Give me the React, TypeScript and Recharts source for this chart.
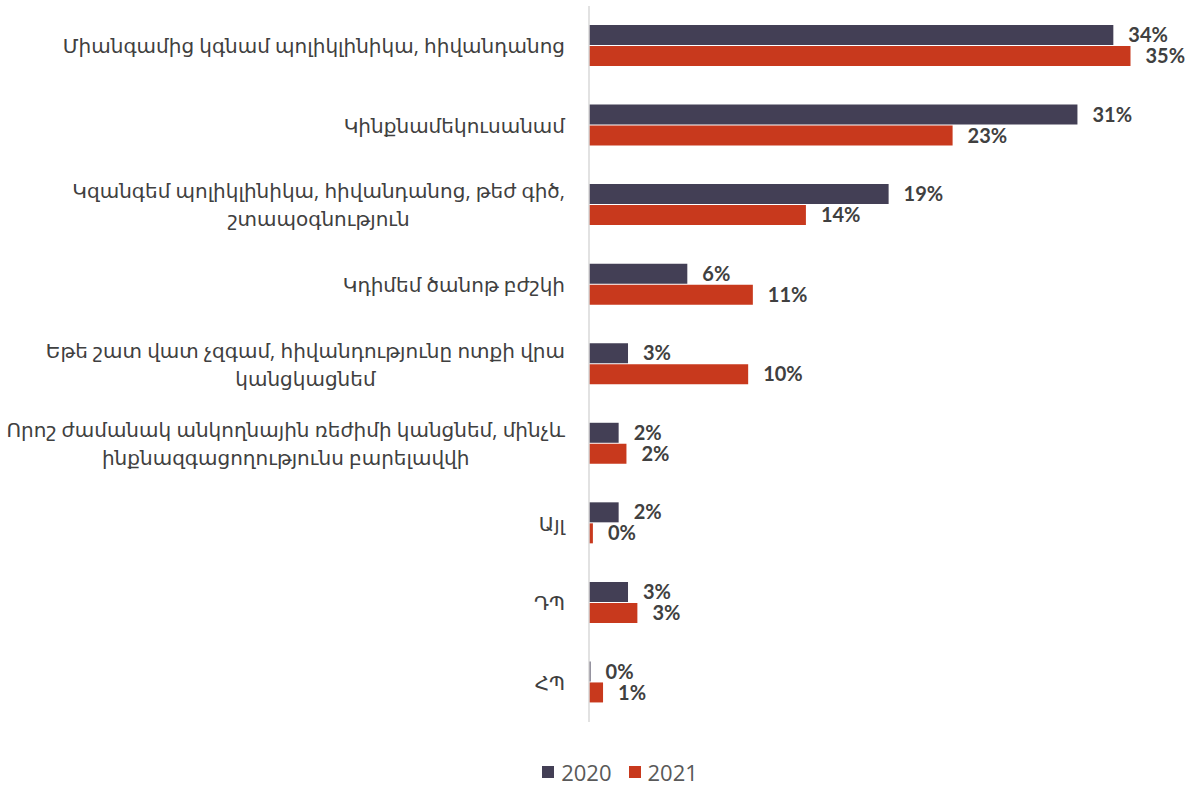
import React from "react";
import { BarChart, Bar, XAxis, YAxis, Legend, LabelList } from "recharts";

const categories: string[] = [
  "Միանգամից կգնամ պոլիկլինիկա, հիվանդանոց",
  "Կինքնամեկուսանամ",
  "Կզանգեմ պոլիկլինիկա, հիվանդանոց, թեժ գիծ,\nշտապօգնություն",
  "Կդիմեմ ծանոթ բժշկի",
  "Եթե շատ վատ չզգամ, հիվանդությունը ոտքի վրա\nկանցկացնեմ",
  "Որոշ ժամանակ անկողնային ռեժիմի կանցնեմ, մինչև\nինքնազգացողությունս բարելավվի",
  "Այլ",
  "ԴՊ",
  "ՀՊ",
];
const values2020: number[] = [33.6, 31.3, 19.2, 6.3, 2.5, 1.9, 1.9, 2.5, 0.1];
const values2021: number[] = [34.7, 23.3, 13.9, 10.5, 10.2, 2.4, 0.25, 3.1, 0.9];
const seriesNames = ["2020", "2021"];
const colors = ["#433F55", "#C8391D"];

const data = categories.map((c, i) => ({
  name: c,
  v2020: values2020[i],
  v2021: values2021[i],
}));

const FONT = '"Open Sans", "DejaVu Sans", sans-serif';
const TICK_SIZE = 20;
let ctx: CanvasRenderingContext2D | null = null;
function measure(t: string): number {
  if (!ctx) {
    ctx = document.createElement("canvas").getContext("2d");
  }
  if (!ctx) return t.length * 11;
  ctx.font = `${TICK_SIZE}px ${FONT}`;
  return ctx.measureText(t).width;
}

const CatTick = (props: any) => {
  const { x, y, payload } = props;
  const lines: string[] = String(payload.value).split("\n");
  const maxW = Math.max(...lines.map(measure));
  const cx = x - maxW / 2;
  const lh = 28;
  const startY = y - ((lines.length - 1) * lh) / 2;
  return (
    <text
      textAnchor="middle"
      fontFamily={FONT}
      fontSize={TICK_SIZE}
      fill="#404040"
    >
      {lines.map((l, i) => (
        <tspan key={i} x={cx} y={startY + i * lh} dominantBaseline="central">
          {l}
        </tspan>
      ))}
    </text>
  );
};

const LegendContent = () => (
  <div
    style={{
      display: "flex",
      justifyContent: "center",
      alignItems: "center",
      fontFamily: FONT,
      fontSize: 22,
      color: "#595959",
      paddingLeft: 46,
    }}
  >
    {seriesNames.map((n, i) => (
      <div
        key={n}
        style={{ display: "flex", alignItems: "center", marginRight: i === 0 ? 17 : 0 }}
      >
        <span
          style={{
            display: "inline-block",
            width: 12,
            height: 12,
            background: colors[i],
            marginRight: 7,
          }}
        />
        <span>{n}</span>
      </div>
    ))}
  </div>
);

const fmt = (v: any) => `${Math.round(Number(v))}%`;

const labelStyle = {
  fontFamily: "Lato, sans-serif",
  fontWeight: 700,
  fontSize: 20,
  fill: "#404040",
};

export default function App() {
  return (
    <div style={{ position: "absolute", left: 0, top: 0 }}>
      <BarChart
        width={1194}
        height={785}
        data={data}
        layout="vertical"
        margin={{ top: 6, right: 12, bottom: 33, left: 0 }}
        barGap={1}
        barCategoryGap="24%"
      >
        <XAxis type="number" hide domain={[0, 38]} />
        <YAxis
          type="category"
          dataKey="name"
          width={589}
          axisLine={{ stroke: "#d9d9d9", strokeWidth: 1.5 }}
          tickLine={false}
          tickMargin={18}
          tick={<CatTick />}
          interval={0}
        />
        <Legend
          verticalAlign="bottom"
          height={30}
          content={<LegendContent />}
          wrapperStyle={{ top: 757, left: 0, width: 1194 }}
        />
        <Bar
          dataKey="v2020"
          name={seriesNames[0]}
          fill={colors[0]}
          barSize={20}
          isAnimationActive={false}
        >
          <LabelList
            dataKey="v2020"
            position="right"
            offset={15}
            formatter={fmt}
            style={labelStyle}
          />
        </Bar>
        <Bar
          dataKey="v2021"
          name={seriesNames[1]}
          fill={colors[1]}
          barSize={20}
          isAnimationActive={false}
        >
          <LabelList
            dataKey="v2021"
            position="right"
            offset={15}
            formatter={fmt}
            style={labelStyle}
          />
        </Bar>
      </BarChart>
    </div>
  );
}
